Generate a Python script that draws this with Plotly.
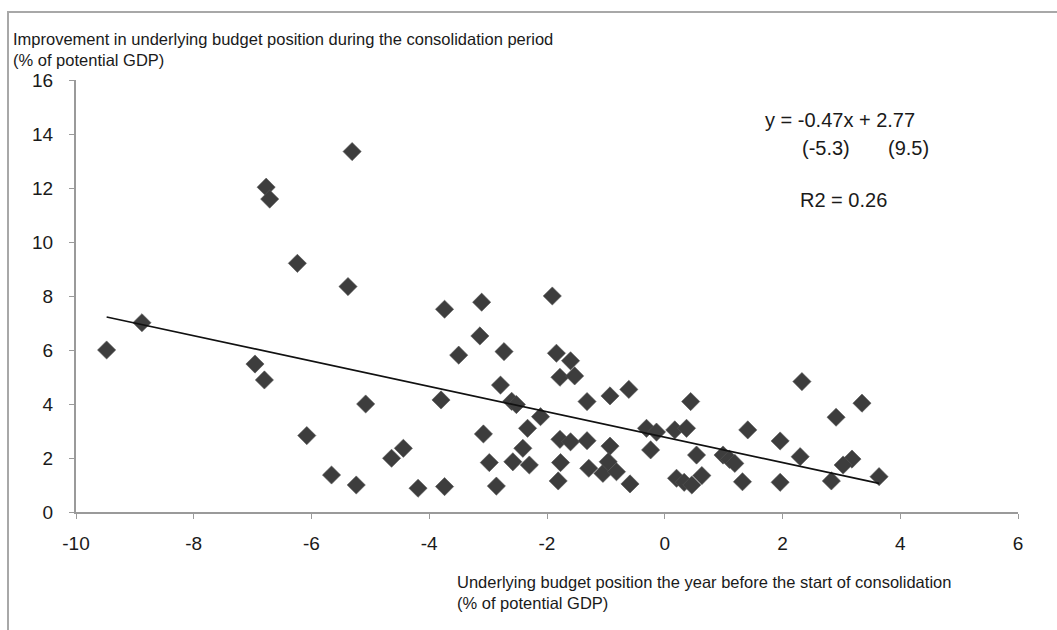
import plotly.graph_objects as go

# Underlying budget position the year before consolidation (% of potential GDP)
x_vals = [-9.48, -8.88, -6.96, -6.80, -6.77, -6.71, -6.24, -6.08, -5.66, -5.38,
          -5.31, -5.24, -5.08, -4.64, -4.44, -4.19, -3.80, -3.74, -3.74, -3.50,
          -3.11, -3.14, -3.08, -2.98, -2.86, -2.79, -2.73, -2.60, -2.52, -2.58,
          -2.41, -2.33, -2.30, -2.11, -1.91, -1.84, -1.78, -1.78, -1.77, -1.81,
          -1.60, -1.53, -1.60, -1.32, -1.32, -1.29, -1.05, -0.93, -0.93, -0.96,
          -0.82, -0.61, -0.59, -0.31, -0.24, -0.14, 0.17, 0.37, 0.44, 0.54,
          0.20, 0.33, 0.46, 0.63, 0.99, 1.10, 1.19, 1.32, 1.41, 1.96,
          1.96, 2.33, 2.30, 2.83, 2.91, 3.35, 3.18, 3.03, 3.64]
# Improvement in underlying budget position during consolidation (% of potential GDP)
y_vals = [6.00, 7.01, 5.48, 4.89, 12.03, 11.59, 9.21, 2.83, 1.37, 8.35,
          13.35, 1.00, 4.00, 1.99, 2.36, 0.88, 4.15, 7.51, 0.94, 5.81,
          7.77, 6.52, 2.89, 1.83, 0.96, 4.70, 5.94, 4.10, 3.98, 1.86,
          2.36, 3.10, 1.74, 3.53, 8.00, 5.88, 4.99, 2.69, 1.83, 1.15,
          5.60, 5.04, 2.60, 4.09, 2.64, 1.62, 1.43, 4.30, 2.44, 1.86,
          1.49, 4.54, 1.04, 3.10, 2.30, 2.96, 3.04, 3.10, 4.09, 2.11,
          1.25, 1.10, 1.00, 1.35, 2.11, 1.95, 1.80, 1.12, 3.04, 2.63,
          1.10, 4.83, 2.05, 1.15, 3.51, 4.03, 1.96, 1.74, 1.31]

slope = -0.47
intercept = 2.77
x_ticks = [-10, -8, -6, -4, -2, 0, 2, 4, 6]
y_ticks = [0, 2, 4, 6, 8, 10, 12, 14, 16]

x_line = [min(x_vals), max(x_vals)]
y_line = [slope * v + intercept for v in x_line]

FONT = "Liberation Sans, Arial, sans-serif"
TXT = "#1a1a1a"
AX = "#9a9a9a"

fig = go.Figure()
fig.add_trace(go.Scatter(
    x=x_vals, y=y_vals, mode="markers",
    marker=dict(symbol="diamond", size=14, color="#3d3d3d",
                line=dict(width=0.6, color="#555555")),
    showlegend=False, hoverinfo="x+y"))
fig.add_trace(go.Scatter(
    x=x_line, y=y_line, mode="lines",
    line=dict(color="#111111", width=1.6),
    showlegend=False, hoverinfo="skip"))

W, H = 1057, 630
L, R, T, B = 76, 39, 80, 118
pw, ph = W - L - R, H - T - B


def px(xp):
    return (xp - L) / pw


def py(yp):
    return (H - B - yp) / ph


fig.update_layout(
    width=W, height=H,
    margin=dict(l=L, r=R, t=T, b=B, pad=0),
    paper_bgcolor="white", plot_bgcolor="white",
    font=dict(family=FONT, size=16, color=TXT),
    xaxis=dict(range=[-10, 6], tickvals=x_ticks, ticktext=[str(v) for v in x_ticks],
               showgrid=False, zeroline=False, showline=True, linecolor=AX, linewidth=2,
               ticks="outside", ticklen=5, tickcolor=AX, tickwidth=1,
               ticklabelstandoff=8,
               tickfont=dict(size=19, color=TXT, family=FONT)),
    yaxis=dict(range=[0, 16], tickvals=y_ticks, ticktext=[str(v) for v in y_ticks],
               showgrid=False, zeroline=False, showline=True, linecolor=AX, linewidth=2,
               ticks="outside", ticklen=5, tickcolor=AX, tickwidth=1,
               ticklabelstandoff=12,
               tickfont=dict(size=19, color=TXT, family=FONT)),
    shapes=[dict(type="rect", xref="paper", yref="paper",
                 x0=px(8), x1=px(1070), y0=py(650), y1=py(12),
                 line=dict(color="#a8a8a8", width=2), layer="below")],
)

ann = [
    dict(text="Improvement in underlying budget position during the consolidation period<br>(% of potential GDP)",
         x=px(11), y=py(28), xanchor="left", yanchor="top", align="left", size=16.5),
    dict(text="Underlying budget position the year before the start of consolidation<br>(% of potential GDP)",
         x=px(455), y=py(571), xanchor="left", yanchor="top", align="left", size=16.5),
    dict(text="y = -0.47x + 2.77", x=px(763), y=py(120), xanchor="left", yanchor="middle", size=20),
    dict(text="(-5.3)", x=px(800), y=py(148), xanchor="left", yanchor="middle", size=20),
    dict(text="(9.5)", x=px(886), y=py(148), xanchor="left", yanchor="middle", size=20),
    dict(text="R2 = 0.26", x=px(798), y=py(200), xanchor="left", yanchor="middle", size=20),
]
for a in ann:
    sz = a.pop("size")
    fig.add_annotation(xref="paper", yref="paper", showarrow=False,
                       font=dict(family=FONT, size=sz, color=TXT), **a)

fig.write_html("out.html")
